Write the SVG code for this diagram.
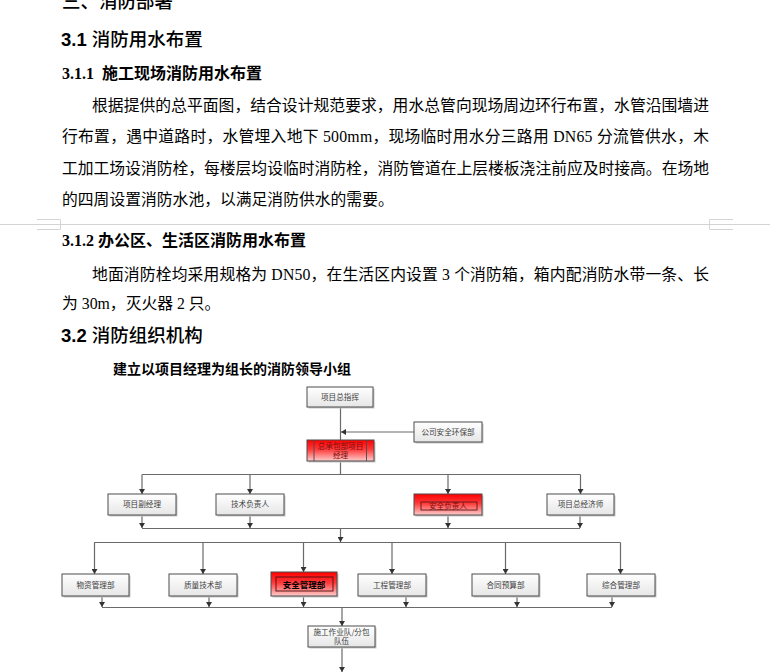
<svg xmlns="http://www.w3.org/2000/svg" width="770" height="672" viewBox="0 0 770 672">
<style>
.t{font-family:"Liberation Serif","Noto Sans CJK SC",serif;font-size:15.8px;fill:#000}
.h{font-family:"Liberation Sans","Noto Sans CJK SC",sans-serif;font-size:18.5px;fill:#000;font-weight:500}
.hb{font-weight:bold}
.h3{font-family:"Liberation Serif","Noto Sans CJK SC",serif;font-size:16px;font-weight:bold;fill:#000}
.sub{font-family:"Liberation Serif","Noto Sans CJK SC",serif;font-size:14px;font-weight:bold;fill:#000}
.box{fill:url(#gw);stroke:#4d4d4d;stroke-width:1}
.sh{fill:#c8c8c8}
.rbox{fill:url(#gr);stroke:#4a4a4a;stroke-width:1}
.in{fill:none;stroke:#5a1a1a;stroke-width:0.9}
.bt{font-family:"Noto Sans CJK SC",sans-serif;font-size:7.6px;fill:#404040;text-anchor:middle}
.rt{font-family:"Noto Sans CJK SC",sans-serif;font-size:7.6px;fill:#7a1010;text-anchor:middle}
.c{stroke:#6a6a6a;stroke-width:1.2;fill:none}
.ca{stroke:#6a6a6a;stroke-width:1.2;fill:none;marker-end:url(#arr)}
.pb{stroke:#d4d4d4;stroke-width:1;fill:none}
</style>
<defs>
<linearGradient id="gw" x1="0" y1="0" x2="0" y2="1">
<stop offset="0" stop-color="#ffffff"/>
<stop offset="1" stop-color="#e6e6e6"/>
</linearGradient>
<linearGradient id="gr" x1="0" y1="0" x2="0" y2="1">
<stop offset="0" stop-color="#ff0000"/>
<stop offset="0.45" stop-color="#ff3a3a"/>
<stop offset="1" stop-color="#ffcccc"/>
</linearGradient>
<marker id="arr" viewBox="0 0 5 6" refX="5" refY="3" markerWidth="5" markerHeight="6" markerUnits="userSpaceOnUse" orient="auto">
<path d="M0,0 L5,3 L0,6 z" fill="#333"/>
</marker>
</defs>
<rect width="770" height="672" fill="#fff"/>

<g id="text">
<text class="h" x="62" y="8" font-size="16">三、消防部署</text>
<text class="h" x="61" y="46"><tspan class="hb">3.1 </tspan>消防用水布置</text>
<text class="h3" x="62" y="79">3.1.1<tspan dx="8">施工现场消防用水布置</tspan></text>
<text class="t" x="92" y="111" textLength="617" lengthAdjust="spacing">根据提供的总平面图，结合设计规范要求，用水总管向现场周边环行布置，水管沿围墙进</text>
<text class="t" x="62" y="142" textLength="647" lengthAdjust="spacing">行布置，遇中道路时，水管埋入地下 500mm，现场临时用水分三路用 DN65 分流管供水，木</text>
<text class="t" x="62" y="174" textLength="647" lengthAdjust="spacing">工加工场设消防栓，每楼层均设临时消防栓，消防管道在上层楼板浇注前应及时接高。在场地</text>
<text class="t" x="62" y="205">的四周设置消防水池，以满足消防供水的需要。</text>
<text class="h3" x="62" y="246">3.1.2 办公区、生活区消防用水布置</text>
<text class="t" x="92" y="280" textLength="617" lengthAdjust="spacing">地面消防栓均采用规格为 DN50，在生活区内设置 3 个消防箱，箱内配消防水带一条、长</text>
<text class="t" x="62" y="309">为 30m，灭火器 2 只。</text>
<text class="h" x="61" y="342"><tspan class="hb">3.2 </tspan>消防组织机构</text>
<text class="sub" x="113" y="374">建立以项目经理为组长的消防领导小组</text>
</g>

<g id="pagebreak">
<line class="pb" x1="0" y1="224.5" x2="770" y2="224.5"/>
<path class="pb" d="M37,219.5 H60.5 V229.5 H37" stroke="#bdbdbd"/>
<path class="pb" d="M733,219.5 H709.5 V229.5 H733" stroke="#bdbdbd"/>
</g>

<g id="connectors">
<line class="c" x1="340.5" y1="407" x2="340.5" y2="440"/>
<line class="ca" x1="414" y1="432" x2="341" y2="432"/>
<line class="c" x1="340.5" y1="461" x2="340.5" y2="474.5"/>
<line class="c" x1="142" y1="474.5" x2="580.5" y2="474.5"/>
<line class="ca" x1="142" y1="474.5" x2="142" y2="494"/>
<line class="ca" x1="250" y1="474.5" x2="250" y2="494"/>
<line class="ca" x1="448" y1="474.5" x2="448" y2="494"/>
<line class="ca" x1="580.5" y1="474.5" x2="580.5" y2="494"/>
<line class="ca" x1="142" y1="515" x2="142" y2="528"/>
<line class="ca" x1="250" y1="515" x2="250" y2="528"/>
<line class="ca" x1="448" y1="515" x2="448" y2="528"/>
<line class="ca" x1="580" y1="515" x2="580" y2="528"/>
<line class="c" x1="142" y1="528.5" x2="580" y2="528.5"/>
<line class="ca" x1="340.5" y1="528.5" x2="340.5" y2="542"/>
<line class="c" x1="94" y1="542.5" x2="620.5" y2="542.5"/>
<line class="ca" x1="94.5" y1="542.5" x2="94.5" y2="574"/>
<line class="ca" x1="203" y1="542.5" x2="203" y2="574"/>
<line class="ca" x1="303.5" y1="542.5" x2="303.5" y2="572"/>
<line class="ca" x1="392" y1="542.5" x2="392" y2="574"/>
<line class="ca" x1="505.5" y1="542.5" x2="505.5" y2="574"/>
<line class="ca" x1="620.5" y1="542.5" x2="620.5" y2="574"/>
<line class="ca" x1="102" y1="596" x2="102" y2="607"/>
<line class="ca" x1="209" y1="596" x2="209" y2="607"/>
<line class="ca" x1="303.5" y1="596" x2="303.5" y2="607"/>
<line class="ca" x1="406" y1="596" x2="406" y2="607"/>
<line class="ca" x1="517" y1="596" x2="517" y2="607"/>
<line class="ca" x1="612" y1="596" x2="612" y2="607"/>
<line class="c" x1="102" y1="607.5" x2="612" y2="607.5"/>
<line class="ca" x1="342" y1="607.5" x2="342" y2="626"/>
<line class="ca" x1="342" y1="647" x2="342" y2="672"/>
</g>

<g id="n-zongzhihui">
<rect class="sh" x="308.5" y="388.5" width="66" height="20"/>
<rect class="box" x="307" y="387" width="66" height="20"/>
<text class="bt" x="340" y="400">项目总指挥</text>
</g>
<g id="n-gongsianquan">
<rect class="sh" x="415.5" y="423.5" width="68" height="20"/>
<rect class="box" x="414" y="422" width="68" height="20"/>
<text class="bt" x="448" y="435">公司安全环保部</text>
</g>
<g id="n-jingli">
<rect class="sh" x="308.5" y="441.5" width="67" height="21"/>
<rect class="rbox" x="307" y="440" width="67" height="21"/>
<line x1="314" y1="440" x2="314" y2="461" stroke="#4a4a4a" stroke-width="0.9"/>
<line x1="366.5" y1="440" x2="366.5" y2="461" stroke="#4a4a4a" stroke-width="0.9"/>
<text class="rt" x="340.5" y="448.5">总承包部项目<tspan x="340.5" dy="9">经理</tspan></text>
</g>
<g id="n-fujingli">
<rect class="sh" x="109.5" y="495.5" width="68" height="21"/>
<rect class="box" x="108" y="494" width="68" height="21"/>
<text class="bt" x="142" y="507">项目副经理</text>
</g>
<g id="n-jishu">
<rect class="sh" x="217.5" y="495.5" width="68" height="21"/>
<rect class="box" x="216" y="494" width="68" height="21"/>
<text class="bt" x="250" y="507">技术负责人</text>
</g>
<g id="n-anquanfuze">
<rect class="sh" x="415.5" y="495.5" width="68" height="21"/>
<rect class="rbox" x="414" y="494" width="68" height="21"/>
<rect class="in" x="421" y="502" width="56" height="8"/>
<text class="rt" x="448" y="508.5">安全负责人</text>
</g>
<g id="n-jingjishi">
<rect class="sh" x="548.5" y="495.5" width="67" height="21"/>
<rect class="box" x="547" y="494" width="67" height="21"/>
<text class="bt" x="580.5" y="507">项目总经济师</text>
</g>
<g id="n-wuzi">
<rect class="sh" x="63.5" y="575.5" width="67" height="22"/>
<rect class="box" x="62" y="574" width="67" height="22"/>
<text class="bt" x="95.5" y="587.5">物资管理部</text>
</g>
<g id="n-zhiliang">
<rect class="sh" x="170.5" y="575.5" width="68" height="22"/>
<rect class="box" x="169" y="574" width="68" height="22"/>
<text class="bt" x="203" y="587.5">质量技术部</text>
</g>
<g id="n-anquanguanli">
<rect class="sh" x="272.5" y="573.5" width="66" height="24"/>
<rect class="rbox" x="271" y="572" width="66" height="24"/>
<rect x="276" y="577" width="57" height="14" fill="none" stroke="#4a1010" stroke-width="0.9"/>
<text x="304" y="587.5" font-family="Liberation Serif, Noto Sans CJK SC, serif" font-size="8.5" font-weight="bold" fill="#000" text-anchor="middle">安全管理部</text>
</g>
<g id="n-gongcheng">
<rect class="sh" x="359.5" y="575.5" width="68" height="22"/>
<rect class="box" x="358" y="574" width="68" height="22"/>
<text class="bt" x="392" y="587.5">工程管理部</text>
</g>
<g id="n-hetong">
<rect class="sh" x="473.5" y="575.5" width="67" height="22"/>
<rect class="box" x="472" y="574" width="67" height="22"/>
<text class="bt" x="505.5" y="587.5">合同预算部</text>
</g>
<g id="n-zonghe">
<rect class="sh" x="588.5" y="575.5" width="68" height="22"/>
<rect class="box" x="587" y="574" width="68" height="22"/>
<text class="bt" x="621" y="587.5">综合管理部</text>
</g>
<g id="n-shigong">
<rect class="sh" x="309.5" y="627.5" width="67" height="21"/>
<rect class="box" x="308" y="626" width="67" height="21"/>
<text class="bt" x="341.5" y="635">施工作业队/分包<tspan x="341.5" dy="9">队伍</tspan></text>
</g>
</svg>
